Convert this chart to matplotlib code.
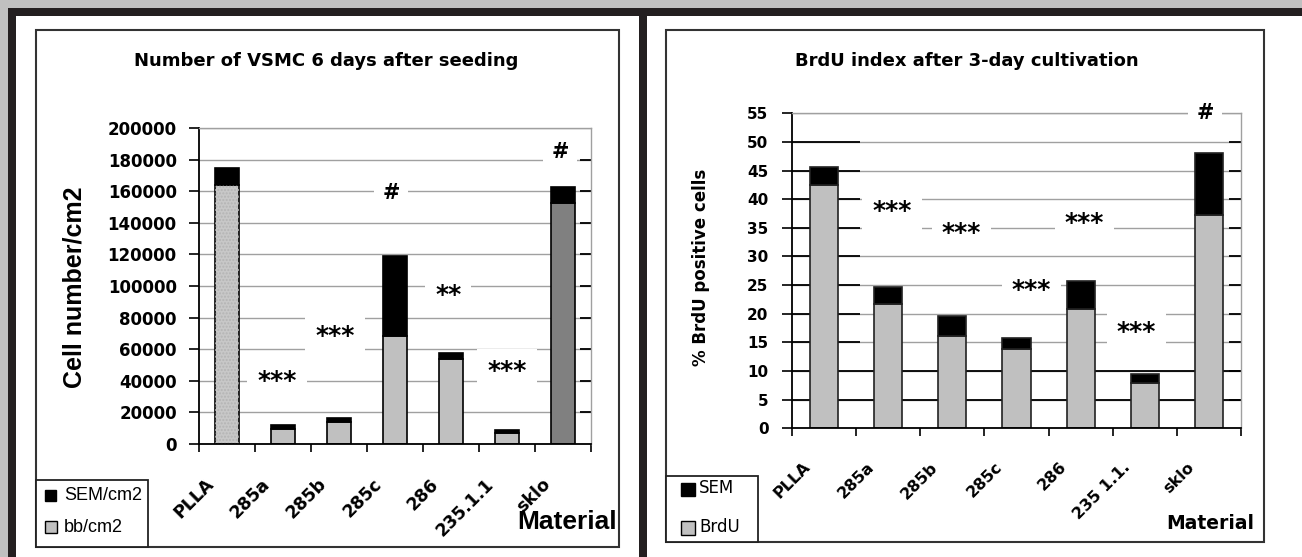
import numpy as np
import matplotlib; matplotlib.use("Agg"); import matplotlib.pyplot as plt
from matplotlib.patches import Rectangle
from matplotlib.transforms import offset_copy

W, H = 1302, 557

# left chart: VSMC count 6 days after seeding
cells_labels = ["PLLA", "285a", "285b", "285c", "286", "235.1.1", "sklo"]
cells_bb = [164000, 9800, 13700, 68400, 53600, 7200, 152700]
cells_sem = [10600, 2000, 2700, 50800, 4200, 1700, 10000]
cells_marks = ["***", "***", "#", "**", "***", "#"]
cells_mark_x = [0.89, 1.93, 2.93, 3.95, 5.0, 5.95]
cells_mark_y = [40000, 68500, 158900, 94500, 46300, 184800]

# right chart: BrdU index after 3 days
brdu_labels = ["PLLA", "285a", "285b", "285c", "286", "235 1.1.", "sklo"]
brdu_val = [42.5, 21.7, 16.1, 13.8, 20.9, 7.9, 37.2]
brdu_sem = [3.2, 2.9, 3.5, 2.0, 4.9, 1.6, 10.8]
brdu_marks = ["***", "***", "***", "***", "***", "#"]
brdu_mark_x = [1.06, 2.14, 3.23, 4.06, 4.87, 5.94]
brdu_mark_y = [38.0, 34.1, 24.1, 35.8, 16.9, 55.1]

BOLD = dict(family="DejaVu Sans", fontweight="bold")
fig = plt.figure(figsize=(W/100, H/100), dpi=100)

def fr(x0, y0, x1, y1):  # pixel box (top-left origin) -> figure fraction rect
    return (x0/W, 1-y1/H, (x1-x0)/W, (y1-y0)/H)

def box(x0, y0, x1, y1, **kw):
    l, b, w, h = fr(x0, y0, x1, y1)
    fig.add_artist(Rectangle((l, b), w, h, transform=fig.transFigure, **kw))

def ftext(x, y, s, **kw):
    fig.text(x/W, 1-y/H, s, **kw)

# window frame
box(0, 0, W, 8, fc="#c0c0c0", ec="none"); box(0, 0, 8, H, fc="#c0c0c0", ec="none")
box(8, 8, W, 16, fc="#231f20", ec="none"); box(8, 8, 16, H, fc="#231f20", ec="none")
box(639, 8, 647, H, fc="#231f20", ec="none")
box(36, 30, 619, 547, fc="none", ec="#333333", lw=1.5)
box(666, 30, 1264, 542, fc="none", ec="#333333", lw=1.5)

def setup(ax, ymax, ystep, tick_fs, tick_pad, right_len):
    n = 7
    ax.set_facecolor("none")
    yt = np.arange(0, ymax+ystep/2, ystep)
    ax.set_yticks(yt)
    ax.set_yticklabels([f"{int(v)}" for v in yt], fontsize=tick_fs, **BOLD)
    ax.set_xticks(np.arange(-0.5, n, 1)); ax.set_xticklabels([])
    ax.tick_params(axis="x", length=6, width=1.2, direction="out")
    ax.tick_params(axis="y", length=7, width=1.2, direction="out", pad=tick_pad)
    ax.yaxis.grid(True, color="#a0a0a0", lw=1); ax.set_axisbelow(True)
    for s in ["left", "bottom"]: ax.spines[s].set_linewidth(1.3); ax.spines[s].set_color("black")
    for s in ["top", "right"]: ax.spines[s].set_linewidth(1); ax.spines[s].set_color("#a0a0a0")
    ax.hlines(yt[1:], 1-right_len, 1, transform=ax.get_yaxis_transform(), color="black", lw=1.3)

def xlabels(ax, labels, fs):
    tr = offset_copy(ax.get_xaxis_transform(), fig=fig, x=-22, y=-31, units="dots")
    for i, lab in enumerate(labels):
        ax.text(i, 0, lab, transform=tr, rotation=45, ha="right", va="top", rotation_mode="anchor", fontsize=fs, **BOLD)

def marks(ax, xs, ys, ms):
    for x, y, m in zip(xs, ys, ms):
        ax.text(x, y, m, ha="center", va="center", fontsize=15 if m == "#" else 18, zorder=3, **BOLD,
                bbox=dict(boxstyle="square,pad=0.4", fc="white", ec="none"))

# ---- left chart
axL = fig.add_axes(fr(199, 128, 591, 444))
setup(axL, 200000, 20000, 12, 9, 11/392)
x = np.arange(len(cells_labels))
colsL = ["#c8c8c8"] + ["#c0c0c0"]*5 + ["#808080"]
axL.bar(x, cells_bb, width=0.43, color=colsL, edgecolor="black", lw=1.2, zorder=2)
axL.bar(x[:1], cells_bb[:1], width=0.43, fill=False, hatch=".....", edgecolor="#b4b4b4", lw=0, zorder=2.1)
axL.bar(x, cells_sem, bottom=cells_bb, width=0.43, color="black", edgecolor="black", lw=1.2, zorder=2)
marks(axL, cells_mark_x, cells_mark_y, cells_marks)
xlabels(axL, cells_labels, 12.5)
axL.set_xlim(-0.5, 6.5); axL.set_ylim(0, 200000)

ftext(326, 66, "Number of VSMC 6 days after seeding", ha="center", va="baseline", fontsize=13, **BOLD)
ftext(74, 287, "Cell number/cm2", rotation=90, ha="center", va="center", fontsize=18, family="Liberation Sans", fontweight="bold")
ftext(617, 529, "Material", ha="right", va="baseline", fontsize=19, family="Liberation Sans", fontweight="bold")
box(36, 480, 148, 547, fc="white", ec="#222222", lw=1.3)
box(45, 490, 56, 501, fc="black", ec="black", lw=1)
box(45, 521, 57, 533, fc="#c0c0c0", ec="black", lw=1)
ftext(64, 495, "SEM/cm2", ha="left", va="center", fontsize=13, family="Liberation Sans")
ftext(64, 527, "bb/cm2", ha="left", va="center", fontsize=13, family="Liberation Sans")

# ---- right chart
axR = fig.add_axes(fr(792, 113.3, 1241, 428.3))
setup(axR, 55, 5, 11, 10, 12/449)
axR.hlines(np.arange(15, 51, 5), -0.5, 0.56, color="black", lw=1.3, zorder=1)
axR.hlines([5, 10], -0.5, 6.5, color="black", lw=1.3, zorder=1)
xr = np.arange(len(brdu_labels))
axR.bar(xr, brdu_val, width=0.44, color="#c0c0c0", edgecolor="#222222", lw=1.2, zorder=2)
axR.bar(xr, brdu_sem, bottom=brdu_val, width=0.44, color="black", edgecolor="#222222", lw=1.2, zorder=2)
marks(axR, brdu_mark_x, brdu_mark_y, brdu_marks)
xlabels(axR, brdu_labels, 11.5)
axR.set_xlim(-0.5, 6.5); axR.set_ylim(0, 55)

ftext(967, 66, "BrdU index after 3-day cultivation", ha="center", va="baseline", fontsize=13, **BOLD)
ftext(701, 267, "% BrdU positive cells", rotation=90, ha="center", va="center", fontsize=12, **BOLD)
ftext(1254, 529, "Material", ha="right", va="baseline", fontsize=13.5, **BOLD)
box(666, 476, 758, 542, fc="white", ec="#222222", lw=1.3)
box(681, 483, 695, 496, fc="black", ec="black", lw=1)
box(681, 521, 695, 535, fc="#c0c0c0", ec="black", lw=1)
ftext(699, 488, "SEM", ha="left", va="center", fontsize=12, family="DejaVu Sans")
ftext(699, 527, "BrdU", ha="left", va="center", fontsize=12, family="DejaVu Sans")

fig.savefig("out.png", dpi=100, facecolor="white")
